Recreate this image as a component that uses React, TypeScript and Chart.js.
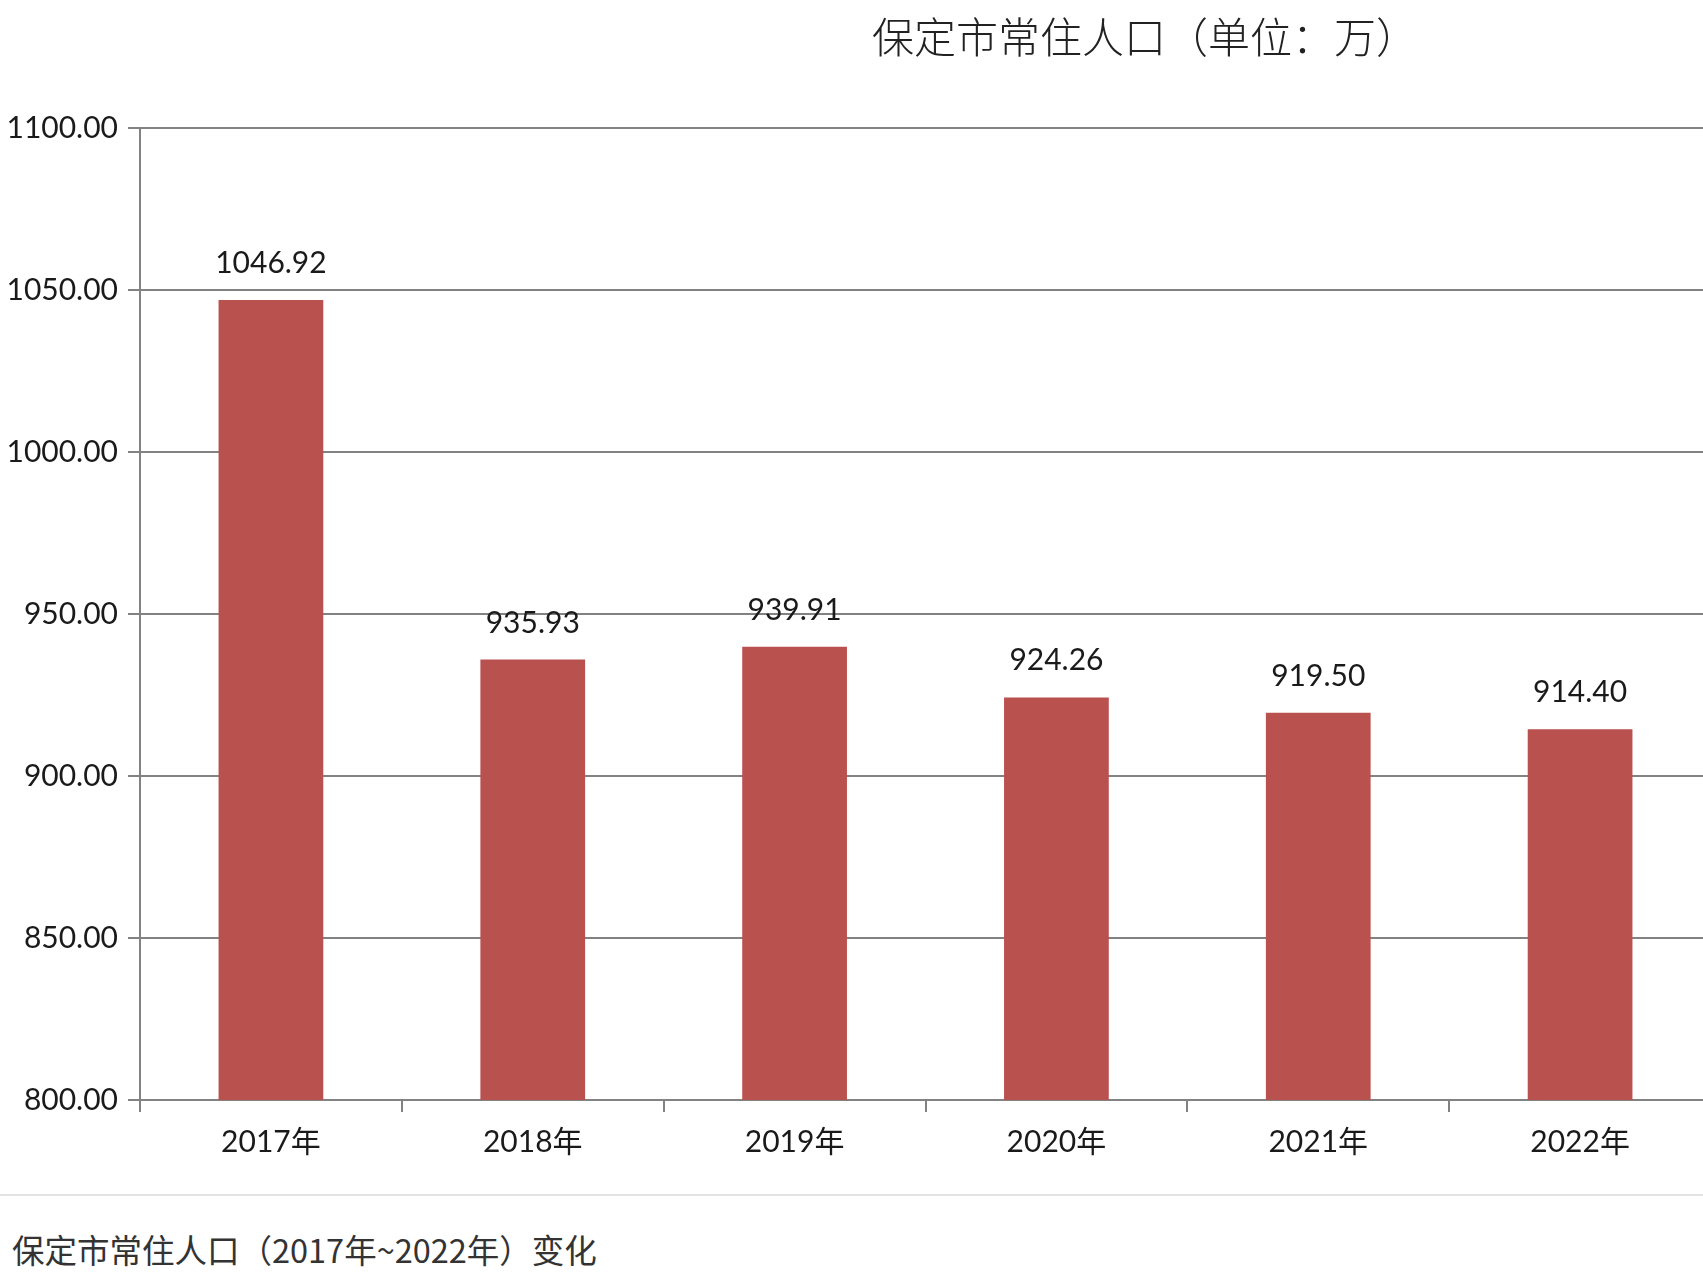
import React, { useEffect, useRef } from "react";
import { Chart, registerables } from "chart.js";

Chart.register(...registerables);

const categories = ["2017年", "2018年", "2019年", "2020年", "2021年", "2022年"];
const populations = [1046.92, 935.93, 939.91, 924.26, 919.5, 914.4];
const yMin = 800;
const yMax = 1100;
const yStep = 50;
const titleText = "保定市常住人口（单位：万）";
const captionText = "保定市常住人口（2017年~2022年）变化";

const LABEL_FONT = '30px Lato, "Noto Sans CJK SC", sans-serif';
const GRID = "#828282";

const valueLabels = {
  id: "valueLabels",
  afterDatasetsDraw(chart: any) {
    const ctx = chart.ctx;
    const meta = chart.getDatasetMeta(0);
    ctx.save();
    ctx.font = LABEL_FONT;
    ctx.fillStyle = "#1a1a1a";
    ctx.textAlign = "center";
    ctx.textBaseline = "alphabetic";
    meta.data.forEach((el: any, i: number) => {
      ctx.fillText(populations[i].toFixed(2), el.x, el.y - 27);
    });
    ctx.restore();
  },
};

export default function App() {
  const ref = useRef<HTMLCanvasElement | null>(null);
  useEffect(() => {
    if (!ref.current) return;
    const chart = new Chart(ref.current, {
      type: "bar",
      data: {
        labels: categories,
        datasets: [
          {
            data: populations,
            backgroundColor: "#B9514E",
            borderWidth: 0,
            categoryPercentage: 1,
            barPercentage: 0.4,
          },
        ],
      },
      options: {
        responsive: false,
        animation: false,
        devicePixelRatio: 1,
        layout: { padding: { top: 128, right: 9, left: 0, bottom: 0 } },
        plugins: {
          legend: { display: false },
          tooltip: { enabled: false },
          title: { display: false },
        },
        scales: {
          x: {
            grid: {
              offset: true,
              drawOnChartArea: false,
              drawTicks: true,
              tickLength: 12,
              color: GRID,
              lineWidth: 2,
            },
            border: { color: GRID, width: 2 },
            ticks: {
              color: "#1a1a1a",
              font: { family: 'Lato, "Noto Sans CJK SC", sans-serif', size: 30 },
              padding: 12,
              maxRotation: 0,
            },
            afterFit: (s: any) => {
              s.height = 90;
            },
          },
          y: {
            min: yMin,
            max: yMax,
            grid: {
              drawOnChartArea: true,
              drawTicks: true,
              tickLength: 12,
              color: GRID,
              lineWidth: 2,
            },
            border: { color: GRID, width: 2 },
            ticks: {
              stepSize: yStep,
              color: "#1a1a1a",
              font: { family: 'Lato, "Noto Sans CJK SC", sans-serif', size: 30 },
              padding: 10,
              callback: (v: any) => Number(v).toFixed(2),
            },
            afterFit: (s: any) => {
              s.width = 140;
            },
          },
        },
      },
      plugins: [valueLabels],
    } as any);
    return () => chart.destroy();
  }, []);

  return (
    <div
      style={{
        position: "absolute",
        left: 0,
        top: 0,
        width: 1703,
        height: 1280,
        overflow: "hidden",
        background: "#ffffff",
      }}
    >
      <canvas
        ref={ref}
        width={1720}
        height={1190}
        style={{ position: "absolute", left: 0, top: 0, width: 1720, height: 1190 }}
      />
      <div
        style={{
          position: "absolute",
          left: 872,
          top: 13,
          fontFamily: '"Noto Sans CJK SC", sans-serif',
          fontSize: 42,
          lineHeight: "44px",
          fontWeight: 300,
          color: "#222",
          whiteSpace: "nowrap",
        }}
      >
        {titleText}
      </div>
      <div
        style={{
          position: "absolute",
          left: 0,
          top: 1194,
          width: 1703,
          height: 2,
          background: "#e4e4e4",
        }}
      />
      <div
        style={{
          position: "absolute",
          left: 12,
          top: 1231,
          fontFamily: '"Noto Sans CJK SC", sans-serif',
          fontSize: 32.5,
          lineHeight: "36px",
          color: "#333",
          whiteSpace: "nowrap",
        }}
      >
        {captionText}
      </div>
    </div>
  );
}
